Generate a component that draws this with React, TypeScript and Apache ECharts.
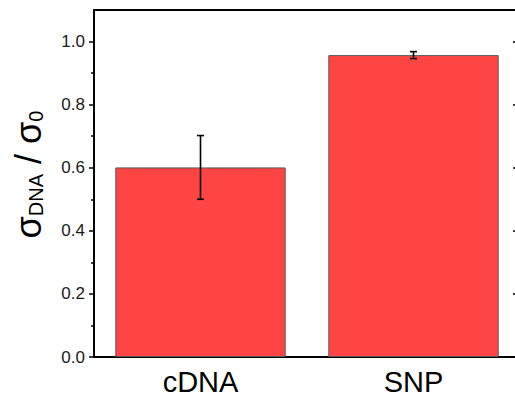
import React, { useEffect, useRef } from "react";
import * as echarts from "echarts";

const categories = ["cDNA", "SNP"];
const values = [0.601, 0.957];
const errors = [0.101, 0.011];
const yMajorTicks = [0, 0.2, 0.4, 0.6, 0.8, 1.0];
const yMinorTicks = [0.1, 0.3, 0.5, 0.7, 0.9];

export default function App() {
  const ref = useRef<HTMLDivElement>(null);
  useEffect(() => {
    if (!ref.current) return;
    const chart = echarts.init(ref.current, null, { renderer: "svg" });
    const font = "'Liberation Sans', Arial, sans-serif";
    const errData = values.map((v, i) => [i, v, errors[i]]);
    chart.setOption({
      animation: false,
      backgroundColor: "#ffffff",
      grid: { left: 94, top: 10, width: 426, height: 347, outerBoundsMode: "none", containLabel: false },
      xAxis: [
        {
          type: "category",
          data: categories,
          position: "bottom",
          axisLine: { onZero: false, lineStyle: { color: "#000", width: 2 } },
          axisTick: { show: false },
          axisLabel: { fontSize: 29, lineHeight: 28, color: "#000", fontFamily: font, margin: 11 },
        },
        {
          type: "category",
          data: categories,
          position: "top",
          axisLine: { show: true, onZero: false, lineStyle: { color: "#000", width: 2 } },
          axisTick: { show: false },
          axisLabel: { show: false },
        },
      ],
      yAxis: [
        {
          type: "value",
          min: 0,
          max: 1.1,
          position: "left",
          splitLine: { show: false },
          axisLine: { show: true, onZero: false, lineStyle: { color: "#000", width: 2 } },
          axisTick: { show: true, length: 5, inside: false, customValues: yMajorTicks, lineStyle: { color: "#000", width: 1.5 } },
          axisLabel: {
            customValues: yMajorTicks,
            formatter: (v: number) => v.toFixed(1),
            fontSize: 17,
            color: "#1a1a1a",
            fontFamily: font,
            margin: 9,
          },
          name: "{s0|σ}{sub|DNA}{s| / σ}{sub|0}",
          nameLocation: "middle",
          nameRotate: 90,
          nameGap: 48,
          nameTextStyle: {
            rich: {
              s0: { fontSize: 36, fontFamily: font, color: "#000", verticalAlign: "bottom", lineHeight: 36, padding: [0, 0, 0, 18] },
              s: { fontSize: 36, fontFamily: font, color: "#000", verticalAlign: "bottom", lineHeight: 36 },
              sub: { fontSize: 20, fontFamily: font, color: "#000", verticalAlign: "bottom", lineHeight: 14 },
            },
          },
        },
        {
          type: "value",
          min: 0,
          max: 1.1,
          position: "left",
          offset: 0,
          splitLine: { show: false },
          axisLine: { show: false },
          axisTick: { show: true, length: 3, inside: false, customValues: yMinorTicks, lineStyle: { color: "#000", width: 1.5 } },
          axisLabel: { show: false },
        },
        {
          type: "value",
          min: 0,
          max: 1.1,
          position: "right",
          splitLine: { show: false },
          axisLine: { show: true, onZero: false, lineStyle: { color: "#000", width: 2 } },
          axisTick: { show: true, length: 7, inside: true, customValues: yMajorTicks, lineStyle: { color: "#000", width: 1.5 } },
          axisLabel: { show: false },
        },
      ],
      series: [
        {
          type: "bar",
          data: values,
          barWidth: "80%",
          itemStyle: { color: "#ff4444", borderColor: "#5a5a5a", borderWidth: 1 },
          xAxisIndex: 0,
          yAxisIndex: 0,
        },
        {
          type: "custom",
          xAxisIndex: 0,
          yAxisIndex: 0,
          data: errData,
          z: 10,
          renderItem: (params: any, api: any) => {
            const x = api.value(0);
            const v = api.value(1);
            const e = api.value(2);
            const top = api.coord([x, v + e]);
            const bot = api.coord([x, v - e]);
            const hw = 3.5;
            const style = { stroke: "#000", lineWidth: 1.6 };
            return {
              type: "group",
              children: [
                { type: "line", shape: { x1: top[0], y1: top[1], x2: bot[0], y2: bot[1] }, style },
                { type: "line", shape: { x1: top[0] - hw, y1: top[1], x2: top[0] + hw, y2: top[1] }, style },
                { type: "line", shape: { x1: bot[0] - hw, y1: bot[1], x2: bot[0] + hw, y2: bot[1] }, style },
              ],
            };
          },
        },
      ],
    });
    return () => chart.dispose();
  }, []);
  return (
    <div
      ref={ref}
      style={{ position: "fixed", left: 0, top: 0, width: 515, height: 399, background: "#fff" }}
    />
  );
}
